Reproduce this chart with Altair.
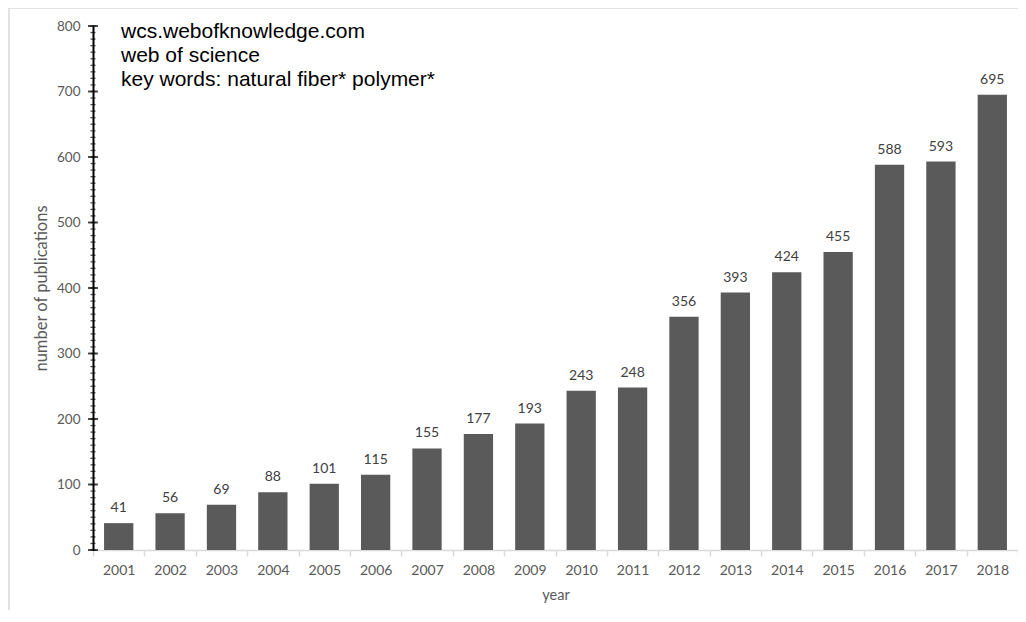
import altair as alt
import pandas as pd

years = [str(y) for y in range(2001, 2019)]
counts = [41, 56, 69, 88, 101, 115, 155, 177, 193, 243, 248, 356, 393, 424, 455, 588, 593, 695]
y_major_ticks = [0, 100, 200, 300, 400, 500, 600, 700, 800]
y_minor_ticks = list(range(0, 801, 10))
annotation_lines = ["wcs.webofknowledge.com", "web of science", "key words: natural fiber* polymer*"]

df = pd.DataFrame({"year": years, "count": counts})
minor_df = pd.DataFrame({"count": y_minor_ticks})
major_df = pd.DataFrame({"count": y_major_ticks})
note_df = pd.DataFrame({"t": ["\n".join(annotation_lines)]})
one_df = pd.DataFrame({"a": [0]})

FONT = "Lato"
GRAY = "#595959"

border = alt.Chart(one_df).mark_rect(fill=None, stroke="#d9d9d9", strokeWidth=1.5).encode(
    x=alt.value(-84), x2=alt.value(1100), y=alt.value(-18), y2=alt.value(800)
)

y_axis = alt.Axis(title="number of publications", values=y_major_ticks,
                  grid=False, ticks=False, tickSize=0,
                  domainColor="black", domainWidth=2,
                  labelColor=GRAY, labelFont=FONT, labelFontSize=13.5, labelPadding=13,
                  titleColor=GRAY, titleFont=FONT, titleFontSize=16.5,
                  titleFontWeight="normal", titlePadding=7)
y_scale = alt.Scale(domain=[0, 800], nice=False)

bars = alt.Chart(df).mark_bar(color="#5a5a5a", width=alt.RelativeBandSize(0.57)).encode(
    x=alt.X("year:O", sort=years,
            scale=alt.Scale(paddingInner=0, paddingOuter=0),
            axis=alt.Axis(title="year", labelAngle=0, tickBand="extent",
                          domainColor="#d9d9d9", domainWidth=1.5,
                          tickColor="#d9d9d9", tickWidth=1.5, tickSize=6,
                          labelColor=GRAY, labelFont=FONT, labelFontSize=14, labelPadding=7,
                          titleColor=GRAY, titleFont=FONT, titleFontSize=14.5,
                          titleFontWeight="normal", titlePadding=11)),
    y=alt.Y("count:Q", scale=y_scale, axis=y_axis),
)

labels = alt.Chart(df).mark_text(baseline="bottom", dy=-8, font=FONT, fontSize=14, color="#404040").encode(
    x=alt.X("year:O", sort=years),
    y=alt.Y("count:Q", scale=y_scale, axis=y_axis),
    text=alt.Text("count:Q"),
)

minor = alt.Chart(minor_df).mark_tick(orient="horizontal", size=5, thickness=1.3, color="black").encode(
    y=alt.Y("count:Q", scale=y_scale, axis=y_axis), x=alt.value(0)
)
major = alt.Chart(major_df).mark_tick(orient="horizontal", size=10, thickness=2, color="black").encode(
    y=alt.Y("count:Q", scale=y_scale, axis=y_axis), x=alt.value(0)
)

note = alt.Chart(note_df).mark_text(align="left", baseline="top", lineBreak="\n",
                                    font="Liberation Sans", fontSize=21, lineHeight=24,
                                    color="black").encode(
    x=alt.value(28), y=alt.value(-5), text="t:N"
)

chart = alt.layer(border, bars, labels, minor, major, note).properties(
    width=925, height=524,
    autosize=alt.AutoSizeParams(type="none"),
    padding={"left": 85, "top": 18, "right": 0, "bottom": 60},
    background="white",
).configure_view(stroke=None)

chart.save("out.html", embed_options={"renderer": "svg", "actions": False})
